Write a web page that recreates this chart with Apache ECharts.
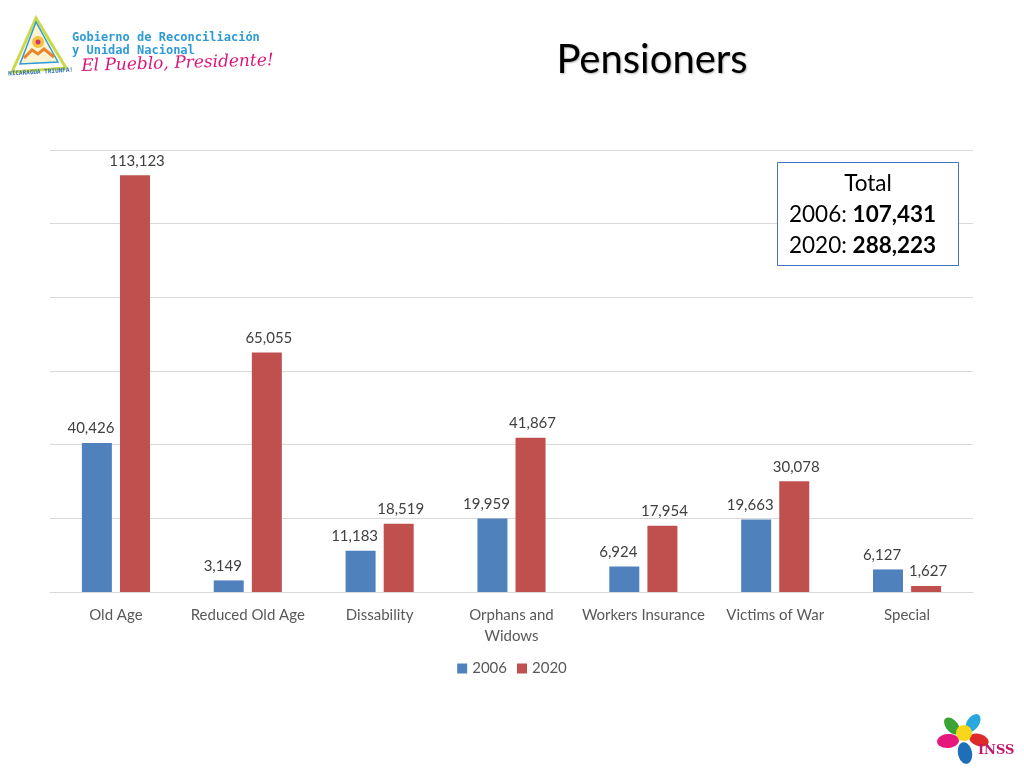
<!DOCTYPE html>
<html><head><meta charset="utf-8">
<script src="https://cdn.jsdelivr.net/npm/echarts@6/dist/echarts.min.js"></script>
<style>html,body{margin:0;padding:0;background:#fff}#c{width:1024px;height:768px}</style>
</head><body><div id="c"></div>
<script>
const categories = ['Old Age','Reduced Old Age','Dissability','Orphans and\nWidows','Workers Insurance','Victims of War','Special'];
const seriesNames = ['2006','2020'];
const values2006 = [40426, 3149, 11183, 19959, 6924, 19663, 6127];
const values2020 = [113123, 65055, 18519, 41867, 17954, 30078, 1627];
const totals = {'2006':'107,431','2020':'288,223'};
const yTicks = [0, 20000, 40000, 60000, 80000, 100000, 120000];

const fmt = v => v.toLocaleString('en-US');
const chart = echarts.init(document.getElementById('c'));
const font = 'Lato, "Open Sans", sans-serif';
const petal = (x, y, rx, ry, rot, color) => ({type:'ellipse', x:x, y:y, rotation:rot, shape:{cx:0, cy:0, rx:rx, ry:ry}, style:{fill:color}});
chart.setOption({
  animation:false,
  textStyle:{fontFamily:font},
  graphic:[
    {type:'text', x:652, y:40, z:5, style:{text:'Pensioners', fontFamily:font, fontSize:40, fill:'#000', textAlign:'center',
      textShadowColor:'rgba(0,0,0,0.3)', textShadowBlur:2, textShadowOffsetX:1, textShadowOffsetY:1}},
    {type:'rect', shape:{x:777.5, y:162.5, width:181, height:103}, style:{fill:'#fff', stroke:'#4472c4', lineWidth:1}, z:10},
    {type:'text', x:868, y:172, z:11, style:{text:'Total', fontSize:22.5, fill:'#000', textAlign:'center', fontFamily:font}},
    {type:'text', x:789, y:203, z:11, style:{text:'{n|2006: }{b|'+totals['2006']+'}', fontFamily:font,
      rich:{n:{fontSize:22.5, fill:'#000', fontFamily:font}, b:{fontSize:22.5, fontWeight:'bold', fill:'#000', fontFamily:font}}}},
    {type:'text', x:789, y:234.5, z:11, style:{text:'{n|2020: }{b|'+totals['2020']+'}', fontFamily:font,
      rich:{n:{fontSize:22.5, fill:'#000', fontFamily:font}, b:{fontSize:22.5, fontWeight:'bold', fill:'#000', fontFamily:font}}}},
    // top-left logo (approximation)
    {type:'polygon', shape:{points:[[36,18],[12,72],[66,68]]}, style:{fill:'none', stroke:'#c9d94a', lineWidth:3}},
    {type:'polygon', shape:{points:[[36,22],[20,64],[58,62]]}, style:{fill:'#fdf3d0', stroke:'#2e9bd6', lineWidth:1.5}},
    {type:'circle', shape:{cx:38, cy:42, r:6}, style:{fill:'#f5c242'}},
    {type:'circle', shape:{cx:38, cy:42, r:2.5}, style:{fill:'#d6336c'}},
    {type:'polyline', shape:{points:[[24,58],[32,50],[38,54],[44,49],[54,57]]}, style:{stroke:'#e8862e', lineWidth:3, fill:'none'}},
    {type:'text', x:8, y:71, rotation:0.06, style:{text:'NICARAGUA TRIUNFA!', fontSize:6, fill:'#2e6fb5', fontFamily:'DejaVu Sans Mono', fontWeight:'bold'}},
    {type:'text', x:72, y:31, style:{text:'Gobierno de Reconciliación\ny Unidad Nacional', fontSize:12, lineHeight:13, fill:'#2e9bd6', fontWeight:'bold', fontFamily:'DejaVu Sans Mono'}},
    {type:'text', x:81, y:58, rotation:0.03, style:{text:'El Pueblo, Presidente!', fontSize:17, fill:'#d8187a', fontStyle:'italic', fontFamily:'DejaVu Serif'}},
    // bottom-right INSS logo (approximation)
    petal(952, 726, 6, 10, 0.7, '#3aa335'),
    petal(973, 723, 6, 10, -0.6, '#29a8e0'),
    petal(948, 741, 11, 7, 0.1, '#e6187d'),
    petal(979, 740, 10, 6, -0.3, '#e02a2a'),
    petal(965, 753, 7, 11, 0.2, '#1e6fb8'),
    {type:'circle', shape:{cx:964, cy:733, r:8}, style:{fill:'#f7d71b'}},
    {type:'text', x:978, y:744, style:{text:'INSS', fontSize:13, fontWeight:'bold', fill:'#c2186b', fontFamily:'DejaVu Serif'}}
  ],
  grid:{left:50, right:51, top:150, bottom:176},
  legend:{data:seriesNames, bottom:87, left:'center', itemWidth:10, itemHeight:10, itemGap:10, icon:'rect',
    textStyle:{fontSize:15, color:'#595959', fontFamily:font}},
  xAxis:{type:'category', data:categories,
    axisLine:{lineStyle:{color:'#d9d9d9'}}, axisTick:{show:false},
    axisLabel:{fontSize:15, color:'#595959', margin:13, lineHeight:21, interval:0}},
  yAxis:{type:'value', min:yTicks[0], max:yTicks[yTicks.length-1], interval:20000,
    axisLabel:{show:false}, axisLine:{show:false}, axisTick:{show:false},
    splitLine:{lineStyle:{color:'#d9d9d9'}}},
  series:[
    {name:seriesNames[0], type:'bar', data:values2006, barWidth:30, barGap:'27%',
      itemStyle:{color:'#4f81bd'},
      label:{show:true, position:'top', distance:7, offset:[-6,0], fontSize:15, color:'#404040', formatter:p=>fmt(p.value)}},
    {name:seriesNames[1], type:'bar', data:values2020, barWidth:30, barGap:'27%',
      itemStyle:{color:'#c0504d'},
      label:{show:true, position:'top', distance:7, offset:[2,0], fontSize:15, color:'#404040', formatter:p=>fmt(p.value)}}
  ]
});
</script></body></html>
